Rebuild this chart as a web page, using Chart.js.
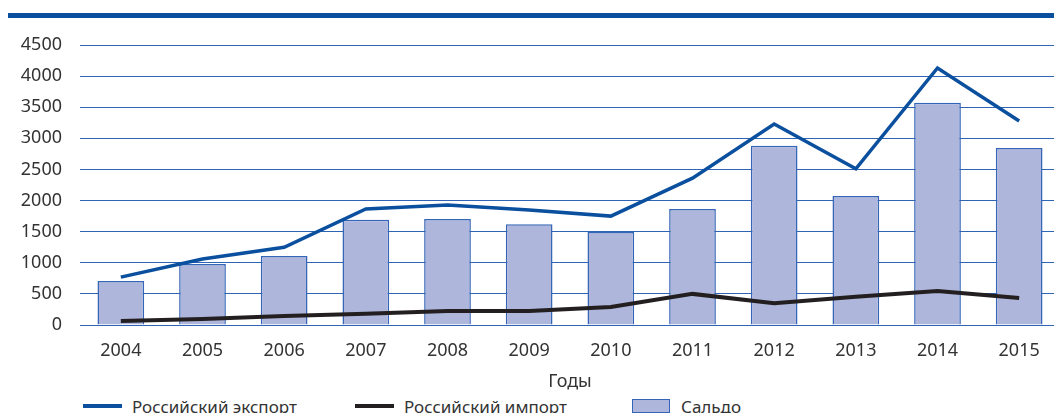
<!DOCTYPE html>
<html>
<head>
<meta charset="utf-8">
<script src="https://cdn.jsdelivr.net/npm/chart.js@4/dist/chart.umd.min.js"></script>
<style>
    body { margin: 0; background: #fff; font-family: "Noto Sans", sans-serif; overflow: hidden; }
    #topbar { position: absolute; left: 8px; top: 13px; width: 1046px; height: 5px; background: #0b4f9f; }
    #wrap { position: absolute; left: 0; top: 0; width: 1060px; height: 393px; }
    .lg { position: absolute; top: 395px; font-size: 17px; color: #333; white-space: nowrap; }
    .sw { position: absolute; }
</style>
</head>
<body>
<div id="topbar"></div>
<div id="wrap"><canvas id="myChart"></canvas></div>
<div id="legend"></div>
<script>
        const years = ['2004', '2005', '2006', '2007', '2008', '2009', '2010', '2011', '2012', '2013', '2014', '2015'];
        const exportValues = [770, 1060, 1250, 1865, 1930, 1850, 1750, 2360, 3230, 2510, 4130, 3280];
        const importValues = [65, 95, 145, 180, 225, 225, 290, 500, 350, 455, 545, 435];
        const saldoValues = [707, 980, 1110, 1690, 1705, 1620, 1495, 1865, 2880, 2075, 3570, 2845];
        const yTicks = [0, 500, 1000, 1500, 2000, 2500, 3000, 3500, 4000, 4500];
        const seriesNames = ['Российский экспорт', 'Российский импорт', 'Сальдо'];

        const blue = '#0b4f9f';
        const black = '#231f20';
        const barFill = '#aeb6dc';
        const barBorder = '#3565b6';
        const gridBlue = '#2e64b3';

        const ctx = document.getElementById('myChart').getContext('2d');

        const myChart = new Chart(ctx, {
            type: 'bar',
            data: {
                labels: years,
                datasets: [{
                    type: 'line',
                    label: seriesNames[0],
                    data: exportValues,
                    borderColor: blue,
                    backgroundColor: blue,
                    borderWidth: 3.5,
                    pointRadius: 0,
                    tension: 0,
                    order: 1
                }, {
                    type: 'line',
                    label: seriesNames[1],
                    data: importValues,
                    borderColor: black,
                    backgroundColor: black,
                    borderWidth: 4,
                    pointRadius: 0,
                    tension: 0,
                    order: 1
                }, {
                    type: 'bar',
                    label: seriesNames[2],
                    data: saldoValues,
                    backgroundColor: barFill,
                    borderColor: barBorder,
                    borderWidth: 1.5,
                    barPercentage: 0.572,
                    categoryPercentage: 1,
                    order: 2
                }]
            },
            options: {
                responsive: true,
                maintainAspectRatio: false,
                animation: false,
                layout: { padding: { left: 0, top: 45, right: 0, bottom: 0 } },
                plugins: {
                    legend: { display: false },
                    tooltip: { enabled: false }
                },
                scales: {
                    x: {
                        afterFit: (scale) => { scale.height = 68; },
                        grid: { display: false, drawTicks: false },
                        border: { display: true, color: gridBlue, width: 1 },
                        ticks: { color: '#333', font: { family: 'Noto Sans', size: 18 }, padding: 15 },
                        title: { display: true, text: 'Годы', color: '#333', font: { family: 'Noto Sans', size: 18 }, padding: { top: 0, bottom: 0 } }
                    },
                    y: {
                        min: 0,
                        max: 4500,
                        afterFit: (scale) => { scale.width = 80; },
                        afterBuildTicks: (scale) => { scale.ticks = yTicks.map(v => ({ value: v })); },
                        grid: { color: gridBlue, lineWidth: 1, drawTicks: false },
                        border: { display: false },
                        ticks: {
                            color: '#333',
                            font: { family: 'Noto Sans', size: 18 },
                            padding: 18,
                            callback: (value) => String(value)
                        }
                    }
                }
            }
        });

        // legend below the chart
        const legendItems = [
            { name: seriesNames[0], kind: 'line', color: blue, left: 83 },
            { name: seriesNames[1], kind: 'line', color: black, left: 355 },
            { name: seriesNames[2], kind: 'box', color: barFill, left: 632 }
        ];
        const lg = document.getElementById('legend');
        legendItems.forEach(item => {
            let sw = document.createElement('div');
            sw.className = 'sw';
            if (item.kind === 'line') {
                sw.style.cssText = `left:${item.left}px;top:404px;width:39px;height:4px;background:${item.color};`;
            } else {
                sw.style.cssText = `left:${item.left}px;top:399px;width:36px;height:12px;background:${item.color};border:1px solid ${barBorder};`;
            }
            lg.appendChild(sw);
            let t = document.createElement('div');
            t.className = 'lg';
            t.style.left = (item.left + 49) + 'px';
            t.textContent = item.name;
            lg.appendChild(t);
        });
</script>
</body>
</html>
